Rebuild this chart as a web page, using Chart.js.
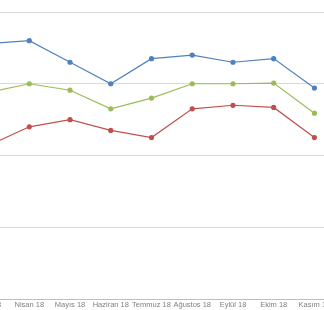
<!DOCTYPE html>
<html>
<head>
<meta charset="utf-8">
<script src="https://cdn.jsdelivr.net/npm/chart.js@4"></script>
<style>
  html, body { margin: 0; padding: 0; background: #fff; overflow: hidden; }
  body { width: 324px; height: 310px; position: relative; }
  #wrap { position: absolute; left: -35px; top: 0; width: 373px; height: 310px; }
</style>
</head>
<body>
<div id="wrap"><canvas id="lineChart"></canvas></div>
<script>
// months (first one sits just off the left edge of the crop)
const months = ['Mart 18', 'Nisan 18', 'Mayıs 18', 'Haziran 18', 'Temmuz 18', 'Ağustos 18', 'Eylül 18', 'Ekim 18', 'Kasım 18'];

// series values (grid step = 100)
const blueSeries  = [356, 360, 330, 300, 335, 340, 330, 335, 294];
const greenSeries = [288, 300, 291, 265, 280, 300, 300, 301, 259];
const redSeries   = [214, 240, 250, 235, 225, 265, 270, 267, 225];

const yTicks = [0, 100, 200, 300, 400];

function makeSet(label, data, color) {
  return {
    label: label,
    data: data,
    borderColor: color,
    backgroundColor: color,
    borderWidth: 1.2,
    pointRadius: 2,
    pointHoverRadius: 2,
    tension: 0,
    fill: false
  };
}

const ctx = document.getElementById('lineChart').getContext('2d');
const lineChart = new Chart(ctx, {
  type: 'line',
  data: {
    labels: months,
    datasets: [
      makeSet('Seri 1', blueSeries, '#4f81bd'),
      makeSet('Seri 2', greenSeries, '#9bbb59'),
      makeSet('Seri 3', redSeries, '#c0504d')
    ]
  },
  options: {
    responsive: true,
    maintainAspectRatio: false,
    animation: false,
    layout: { padding: { top: 12, left: 0, right: 0, bottom: 0 } },
    plugins: { legend: { display: false }, tooltip: { enabled: false } },
    scales: {
      x: {
        offset: true,
        grid: { display: false, drawTicks: false },
        border: { display: true, color: '#bfbfbf', width: 1 },
        ticks: {
          autoSkip: false,
          maxRotation: 0,
          padding: 1,
          color: '#808080',
          font: { family: 'Liberation Sans', size: 7.5, lineHeight: 1.2 }
        }
      },
      y: {
        min: yTicks[0],
        max: yTicks[yTicks.length - 1],
        afterBuildTicks: axis => { axis.ticks = yTicks.map(v => ({ value: v })); },
        grid: { color: '#d9d9d9', lineWidth: 1, drawTicks: false },
        border: { display: false },
        ticks: { display: false }
      }
    }
  }
});
</script>
</body>
</html>
